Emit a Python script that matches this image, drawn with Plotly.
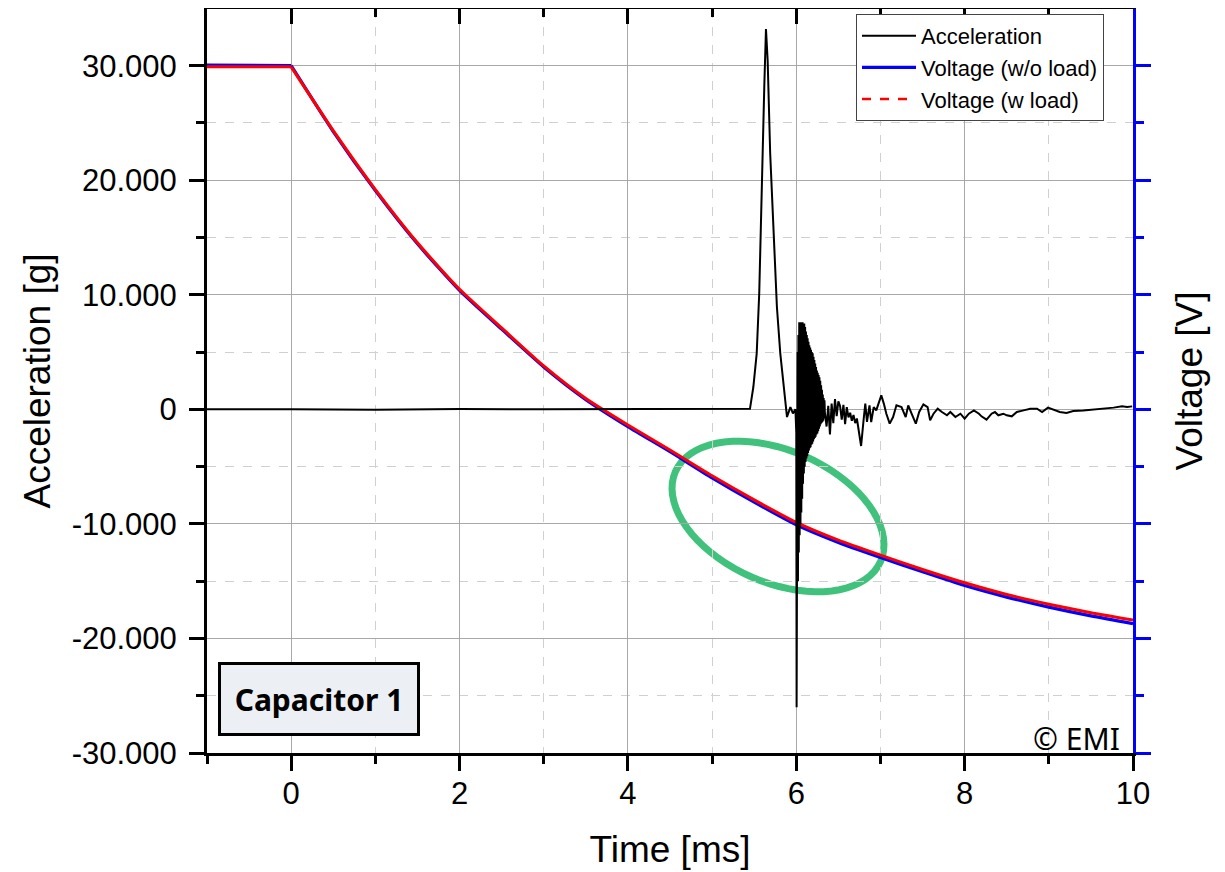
import math
import plotly.graph_objects as go

# ---------------- data ----------------
# Acceleration [g] vs time [ms]
acc_t = [-1.0, -0.5, 0.0, 1.0, 2.0, 3.0, 4.0, 5.0, 5.45,
         5.49, 5.53, 5.56, 5.59, 5.62, 5.64, 5.66, 5.69, 5.73, 5.77, 5.81, 5.85,
         5.89, 5.93, 5.96, 5.99,
         6.000, 6.004, 6.008, 6.012, 6.016, 6.020, 6.025, 6.030, 6.035, 6.040,
         6.045, 6.050, 6.055, 6.060, 6.065, 6.070, 6.075, 6.080, 6.085, 6.090,
         6.095, 6.100, 6.105, 6.110, 6.115, 6.120, 6.125, 6.130, 6.135, 6.140,
         6.145, 6.150, 6.155, 6.160, 6.165, 6.170, 6.175, 6.180, 6.185, 6.190,
         6.195, 6.200, 6.205, 6.210, 6.215, 6.220, 6.225, 6.230, 6.235, 6.240,
         6.245, 6.250, 6.255, 6.260, 6.265, 6.270, 6.275, 6.280, 6.285, 6.290,
         6.295, 6.300, 6.305, 6.310, 6.315, 6.320, 6.325, 6.330, 6.335, 6.340,
         6.36, 6.38, 6.40, 6.42, 6.44, 6.46, 6.48, 6.50, 6.52, 6.54, 6.56, 6.58,
         6.60, 6.62, 6.64, 6.66, 6.68, 6.70, 6.72, 6.74, 6.77, 6.80, 6.82, 6.84,
         6.87, 6.89, 6.92, 6.95, 6.98, 7.01, 7.04, 7.07, 7.11, 7.15, 7.19, 7.25,
         7.30, 7.33, 7.37, 7.42, 7.46, 7.51, 7.56, 7.59, 7.63, 7.68, 7.73, 7.79,
         7.83, 7.89, 7.95, 8.00, 8.05, 8.11, 8.17, 8.20, 8.26, 8.32, 8.36, 8.40,
         8.46, 8.50, 8.56, 8.62, 8.70, 8.78, 8.86, 8.92, 8.99, 9.05, 9.13, 9.21,
         9.29, 9.41, 9.53, 9.65, 9.77, 9.87, 9.93, 9.99]
acc_g = [0, 20, 0, -30, 20, 0, 30, 0, 50,
         1950, 4890, 10130, 20000, 28150, 33200, 30480, 22360, 15050, 8935, 4890, 1950,
         -670, 200, -350, 0,
         -2000, -26000, 1500, -20000, 5000, -15000, 6500, -12500, 7600, -11000,
         7500, -10000, 7600, -9000, 7400, -7800, 7600, -6500, 7300, -5600,
         7500, -5000, 7200, -4600, 6800, -4300, 6500, -4100, 6200, -3800,
         5900, -3600, 5600, -3400, 5400, -3300, 5200, -3100, 5000, -3000,
         4900, -2800, 4600, -2600, 4300, -2500, 4000, -2400, 3700, -2200,
         3400, -2100, 3200, -1900, 3000, -1700, 2800, -1500, 2500, -1300,
         2100, -1200, 1700, -1100, 1300, -1000, 1000, -800, 800, -300,
         -1500, 300, -2200, 500, -1200, 900, -600, 700, 300, -900, 400, -1300,
         200, -700, -300, -1000, -500, -1200, -800, -1900, -3200, -900, 500, -1100,
         350, -1110, 200, -90, 500, 1220, 500, -380, -1250, -670, 350, 200,
         -670, 350, -380, -1250, -230, 440, 200, -960, -380, 60, -230, -520,
         -230, -670, -380, -810, -380, -90, -380, -610, -900, -380, -230, -520,
         -380, -520, -610, -230, -90, 60, 60, -230, 150, -30, -230, -320,
         -150, -90, -30, 60, 150, 260, 200, 260]

# Voltage traces (plotted on the right-hand axis)
volt_t = [-1.0, -0.5, 0.0, 0.5, 1.0, 1.5, 2.0, 2.5, 3.0, 3.5, 4.0, 4.5,
          5.0, 5.5, 6.0, 6.5, 7.0, 7.5, 8.0, 8.5, 9.0, 9.5, 10.0]
volt_wo_load = [30050, 30030, 30000, 24250, 19100, 14450, 10380, 7000, 3700, 850,
                -1510, -3700, -5980, -8100, -10080, -11620, -12930, -14180, -15380,
                -16390, -17270, -18030, -18700]
volt_w_load = [29900, 29920, 29900, 24330, 19190, 14540, 10480, 7110, 3790, 940,
               -1370, -3550, -5800, -7900, -9870, -11420, -12730, -13980, -15140,
               -16160, -17010, -17760, -18400]

# Axis ticks
x_tickvals = [0, 2, 4, 6, 8, 10]
x_ticktext = ["0", "2", "4", "6", "8", "10"]
y_tickvals = [-30000, -20000, -10000, 0, 10000, 20000, 30000]
y_ticktext = ["-30.000", "-20.000", "-10.000", "0", "10.000", "20.000", "30.000"]
x_range = [-1, 10]
y_range = [-30000, 34950]

# ---------------- figure ----------------
OFF = 8                      # page body margin of the exported html
W, H = 1225 - OFF, 872 - OFF
# plot area in screen pixels: left 207, right 1133, top 9, bottom 753
ML, MR, MT, MB = 207 - OFF, W - (1133 - OFF), 9 - OFF, H - (753 - OFF)
PW, PH = W - ML - MR, H - MT - MB


def px2paper(sx, sy):
    return (sx - OFF - ML) / PW, (MT + PH - (sy - OFF)) / PH


i0 = volt_t.index(0.0)   # discharge starts here: flat part and decay drawn separately

fig = go.Figure()

blue = dict(color="#0000ff", width=3.2)
red = dict(color="#ff0000", width=3)
fig.add_trace(go.Scatter(x=volt_t[:i0 + 1], y=volt_wo_load[:i0 + 1], mode="lines",
                         line=blue, xaxis="x", yaxis="y", showlegend=False,
                         legendgroup="wo", hoverinfo="skip"))
fig.add_trace(go.Scatter(x=volt_t[i0:], y=volt_wo_load[i0:], mode="lines",
                         name="Voltage (w/o load)",
                         line=dict(blue, shape="spline", smoothing=0.6),
                         xaxis="x", yaxis="y", legendgroup="wo", legendrank=2))
fig.add_trace(go.Scatter(x=volt_t[:i0 + 1], y=volt_w_load[:i0 + 1], mode="lines",
                         line=red, xaxis="x", yaxis="y", showlegend=False,
                         legendgroup="wl", hoverinfo="skip"))
fig.add_trace(go.Scatter(x=volt_t[i0:], y=volt_w_load[i0:], mode="lines",
                         name="Voltage (w load)",
                         line=dict(red, shape="spline", smoothing=0.6),
                         xaxis="x", yaxis="y", showlegend=False, legendgroup="wl"))
fig.add_trace(go.Scatter(x=[None], y=[None], mode="lines", name="Voltage (w load)",
                         line=dict(color="#ff0000", width=2.5, dash="dash"),
                         xaxis="x", yaxis="y", legendgroup="wl", legendrank=3,
                         showlegend=True))
fig.add_trace(go.Scatter(x=acc_t, y=acc_g, mode="lines", name="Acceleration",
                         line=dict(color="#000000", width=2), xaxis="x", yaxis="y2",
                         legendrank=1))
# invisible trace so the top axis is drawn
fig.add_trace(go.Scatter(x=[None], y=[None], xaxis="x2", yaxis="y", showlegend=False,
                         hoverinfo="skip"))

# green ellipse (decoration) in paper coordinates
cx, cy, ea, eb, th = 778, 516.5, 112, 66, math.radians(23.6)
pts = []
for k in range(73):
    t = 2 * math.pi * k / 72
    sx = cx + ea * math.cos(th) * math.cos(t) - eb * math.sin(th) * math.sin(t)
    sy = cy + ea * math.sin(th) * math.cos(t) + eb * math.cos(th) * math.sin(t)
    pts.append(px2paper(sx, sy))
path = "M " + " L ".join(f"{u:.5f},{v:.5f}" for u, v in pts) + " Z"

tickfont = dict(family="Liberation Sans, Arial, sans-serif", size=31, color="#000000")
titlefont = dict(family="Liberation Sans, Arial, sans-serif", size=37, color="#000000")

leg_x, leg_y = px2paper(856, 14)
cap_x, cap_y = px2paper(319, 699)
emi_x, emi_y = px2paper(1076, 738)

fig.update_layout(
    width=W, height=H,
    margin=dict(l=ML, r=MR, t=MT, b=MB, pad=0),
    paper_bgcolor="white", plot_bgcolor="white",
    font=dict(family="Liberation Sans, Arial, sans-serif", color="#000000"),
    showlegend=True,
    legend=dict(x=leg_x, y=leg_y, xanchor="left", yanchor="top",
                bgcolor="white", bordercolor="#444444", borderwidth=1,
                font=dict(family="Liberation Sans, Arial, sans-serif", size=22, color="#000"),
                itemwidth=54, tracegroupgap=0),
    xaxis=dict(domain=[0, 1], range=x_range, anchor="y",
               tickmode="array", tickvals=x_tickvals, ticktext=x_ticktext,
               ticks="outside", ticklen=15, tickwidth=3, tickcolor="#000",
               tickfont=tickfont, ticklabelstandoff=-4,
               showline=True, linecolor="#000", linewidth=3,
               showgrid=True, gridcolor="#a8a8a8", gridwidth=1, zeroline=False,
               minor=dict(tickmode="linear", tick0=0, dtick=1, ticks="outside", ticklen=8,
                          tickwidth=3, tickcolor="#000", showgrid=True,
                          gridcolor="#d0d0d0", gridwidth=1, griddash="dash"),
               title=dict(text="Time [ms]", font=titlefont, standoff=26)),
    xaxis2=dict(overlaying="x", side="top", anchor="y", range=x_range,
                tickmode="array", tickvals=x_tickvals,
                ticks="inside", ticklen=15, tickwidth=3, tickcolor="#000",
                showticklabels=False, showline=True, linecolor="#000", linewidth=3,
                showgrid=False, zeroline=False,
                minor=dict(tickmode="linear", tick0=0, dtick=1, ticks="inside", ticklen=8,
                           tickwidth=3, tickcolor="#000", showgrid=False)),
    yaxis=dict(domain=[0, 1], range=y_range, side="right", anchor="x",
               tickmode="array", tickvals=y_tickvals,
               ticks="outside", ticklen=15, tickwidth=3, tickcolor="#0000ff",
               showticklabels=False, showline=True, linecolor="#0000ff", linewidth=3,
               showgrid=False, zeroline=False,
               minor=dict(tickmode="linear", tick0=0, dtick=5000, ticks="outside", ticklen=8,
                          tickwidth=3, tickcolor="#0000ff", showgrid=False),
               title=dict(text="Voltage [V]", font=titlefont, standoff=27)),
    yaxis2=dict(overlaying="y", side="left", anchor="x", range=y_range,
                tickmode="array", tickvals=y_tickvals, ticktext=y_ticktext,
                ticks="outside", ticklen=15, tickwidth=3, tickcolor="#000",
                tickfont=tickfont, ticklabelstandoff=6,
                showline=True, linecolor="#000", linewidth=3,
                showgrid=True, gridcolor="#a8a8a8", gridwidth=1, zeroline=False,
                minor=dict(tickmode="linear", tick0=0, dtick=5000, ticks="outside", ticklen=8,
                           tickwidth=3, tickcolor="#000", showgrid=True,
                           gridcolor="#d0d0d0", gridwidth=1, griddash="dash"),
                title=dict(text="Acceleration [g]", font=titlefont, standoff=10)),
    shapes=[dict(type="path", path=path, xref="paper", yref="paper",
                 line=dict(color="#41c27c", width=7), fillcolor="rgba(0,0,0,0)",
                 layer="between")],
    annotations=[
        dict(text="<b>Capacitor 1</b>", xref="paper", yref="paper",
             x=cap_x, y=cap_y, xanchor="center", yanchor="middle",
             showarrow=False, width=196, height=68, borderpad=0, borderwidth=3,
             bordercolor="#000", bgcolor="#eceff3",
             font=dict(family="Noto Sans, Open Sans, sans-serif", size=30, color="#000")),
        dict(text="© EMI", xref="paper", yref="paper",
             x=emi_x, y=emi_y, xanchor="center", yanchor="middle",
             showarrow=False,
             font=dict(family="Noto Sans, Open Sans, sans-serif", size=30, color="#000")),
    ],
)

fig.write_html("out.html")
